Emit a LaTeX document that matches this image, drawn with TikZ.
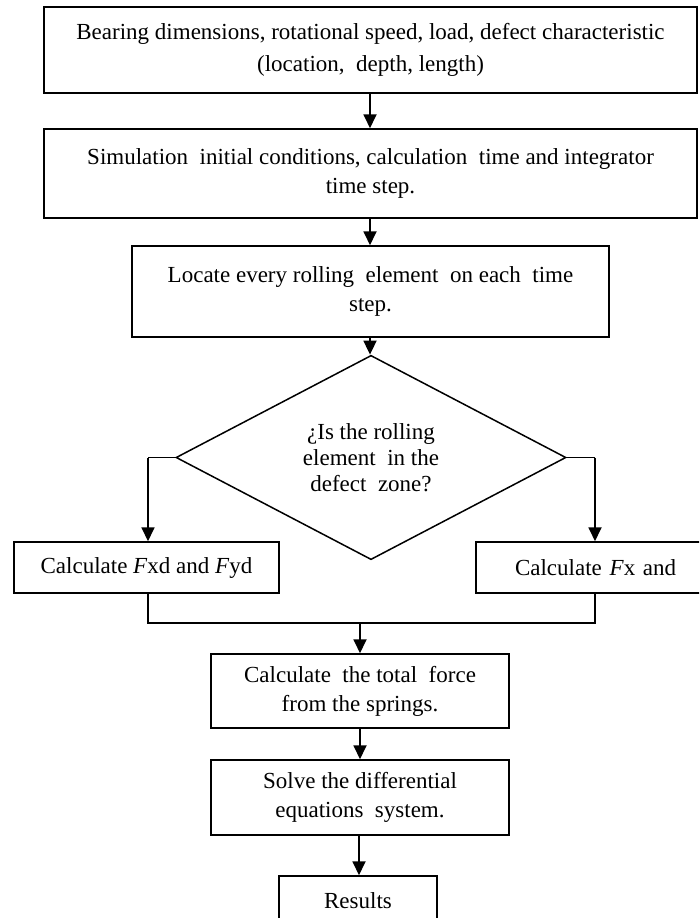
\documentclass[tikz,border=0pt]{standalone}
\usepackage{fontspec}
\setmainfont{Liberation Serif}
\usetikzlibrary{shapes.geometric,arrows.meta}
\begin{document}
\begin{tikzpicture}[x=1pt,y=-1pt,
  box/.style={draw=black,line width=1.5pt,fill=white,inner sep=0pt,align=center,
    font=\fontsize{23}{29}\selectfont},
  dec/.style={draw=black,line width=1.5pt,shape=diamond,inner sep=0pt,align=center,
    font=\fontsize{23}{26}\selectfont},
  conn/.style={draw=black,line width=1.8pt},
  arr/.style={conn,-{Triangle[length=14pt,width=13pt]}}]
\useasboundingbox (0,0) rectangle (699,918);
\clip (0,0) rectangle (699,918);
\fill[white] (0,0) rectangle (699,918);
\node[box,minimum width=653pt,minimum height=86pt,font=\fontsize{23}{32}\selectfont] (b1) at (370.5,50)
  {Bearing dimensions, rotational speed, load, defect characteristic\\(location,\ \ depth, length)};
\node[box,minimum width=653pt,minimum height=89pt] (b2) at (370.5,173.5)
  {Simulation\ \ initial conditions, calculation\ \ time and integrator\\time step.};
\node[box,minimum width=477pt,minimum height=91pt] (b3) at (370.5,291.5)
  {Locate every rolling\ \ element\ \ on each\ \ time\\step.};
\node[dec,minimum width=390pt,minimum height=203pt] (d) at (371,457.5)
  {¿Is the rolling\\element\ \ in the\\defect\ \ zone?};
\node[box,minimum width=265pt,minimum height=51pt] (b4) at (146.5,567.5)
  {Calculate \textit{F}xd and \textit{F}yd};
\node[box,minimum width=265pt,minimum height=51pt,inner xsep=39pt,text width=187pt,align=left] (b5) at (608.5,567.5)
  {Calculate \textit{F}x and};
\node[box,minimum width=298pt,minimum height=74pt] (b6) at (360,691)
  {Calculate\ \ the total\ \ force\\from the springs.};
\node[box,minimum width=298pt,minimum height=75pt] (b7) at (360,797.5)
  {Solve the differential\\equations\ \ system.};
\node[box,minimum width=158pt,minimum height=50pt] (b8) at (358,901)
  {Results};
\coordinate (dl) at (d.west -| 148,0);
\coordinate (dr) at (d.east -| 595,0);
\coordinate (jl) at (148,623);
\coordinate (jr) at (595,623);
\coordinate (jm) at (360,623);
\draw[arr] (b1.south -| 370,0) -- (b2.north -| 370,0);
\draw[arr] (b2.south -| 370,0) -- (b3.north -| 370,0);
\draw[arr] (b3.south -| 370,0) -- (d.north -| 370,0);
\draw[conn] (d.west) -- (dl);
\draw[arr] (dl) -- (b4.north -| dl);
\draw[conn] (d.east) -- (dr);
\draw[arr] (dr) -- (b5.north -| dr);
\draw[conn] (b4.south -| jl) -- (jl) -- (jr) -- (b5.south -| jr);
\draw[arr] (jm) -- (b6.north -| jm);
\draw[arr] (b6.south -| 360,0) -- (b7.north -| 360,0);
\draw[arr] (b7.south -| 359,0) -- (b8.north -| 359,0);
\end{tikzpicture}
\end{document}
